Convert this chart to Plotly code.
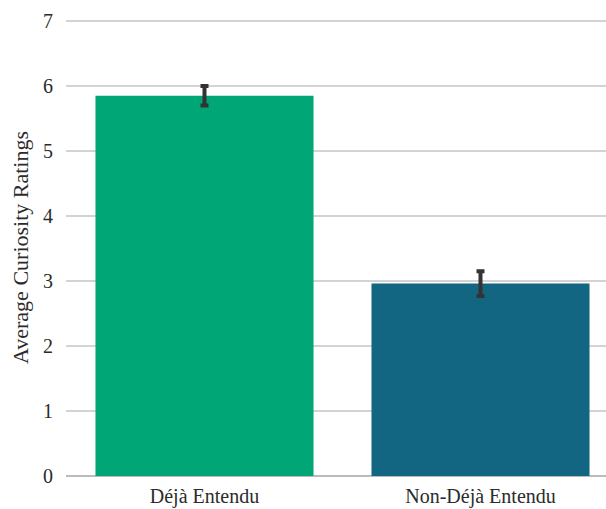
import plotly.graph_objects as go

categories = ["Déjà Entendu", "Non-Déjà Entendu"]
means = [5.85, 2.96]
errors = [0.15, 0.19]
colors = ["#00A676", "#136682"]
y_ticks = [0, 1, 2, 3, 4, 5, 6, 7]

fig = go.Figure()
fig.add_trace(go.Bar(
    x=[0, 1],
    y=means,
    width=0.79,
    marker=dict(color=colors, line=dict(width=0)),
    error_y=dict(type="data", array=errors, visible=True,
                 color="#333333", thickness=4, width=4),
))

FONT = "Liberation Serif"
fig.update_layout(
    width=606, height=509,
    margin=dict(l=66, r=0, t=19, b=33),
    plot_bgcolor="white", paper_bgcolor="white",
    showlegend=False,
    font=dict(family=FONT, size=20, color="#2b2b2b"),
    xaxis=dict(
        tickmode="array", tickvals=[0, 1], ticktext=categories,
        range=[-0.5018, 1.4547],
        showgrid=False, showline=False, zeroline=False,
        ticks="", ticklabelstandoff=6,
        tickfont=dict(family=FONT, size=20, color="#2b2b2b"),
    ),
    yaxis=dict(
        range=[0, 7.03], tickvals=y_ticks,
        showgrid=True, gridcolor="#d3d3d3", gridwidth=1.5,
        zeroline=True, zerolinecolor="#bbbbbb", zerolinewidth=2,
        showline=False, ticks="", ticklabelstandoff=12,
        tickfont=dict(family=FONT, size=20, color="#2b2b2b"),
        title=dict(text="Average Curiosity Ratings",
                   font=dict(family=FONT, size=22, color="#2b2b2b"), standoff=8),
    ),
)

fig.write_html("out.html", config={"displayModeBar": False})
with open("out.html", encoding="utf-8") as f:
    html = f.read()
html = html.replace("<head>", "<head><style>html,body{margin:0;padding:0;overflow:hidden;}</style>", 1)
with open("out.html", "w", encoding="utf-8") as f:
    f.write(html)
